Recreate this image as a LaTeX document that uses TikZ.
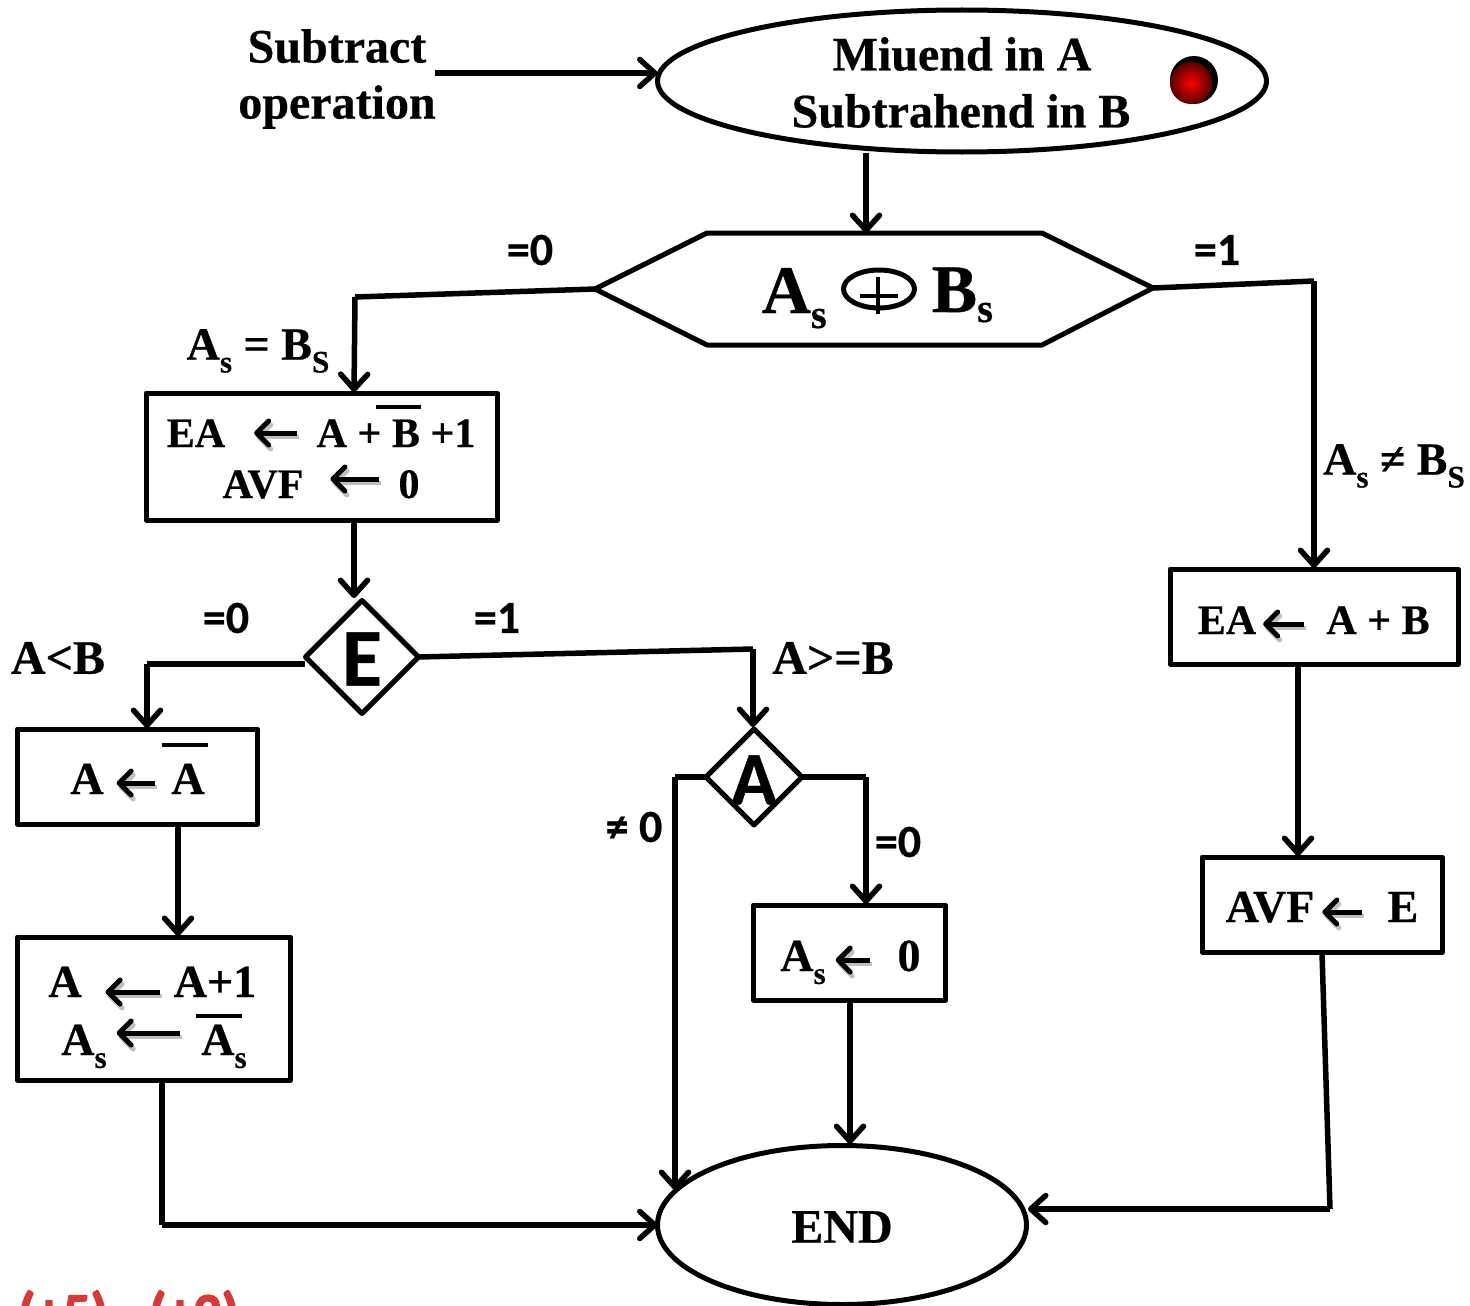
\documentclass[tikz,border=0pt]{standalone}
\usepackage{fontspec}
\setmainfont{Liberation Serif}[BoldFeatures={FakeBold=0.5}]
\newfontfamily\labelfont{Carlito}[BoldFeatures={FakeBold=0.5}]
\newfontfamily\markfont{Carlito}[BoldFeatures={FakeBold=3}]
\usetikzlibrary{arrows.meta,shapes.geometric}
\definecolor{markred}{RGB}{212,58,58}
\newcommand{\fsize}[1]{\fontsize{#1}{#1}\selectfont}
\newcommand{\lowered}[2][.28em]{\raisebox{-#1}{\scalebox{.68}{#2}}}
\begin{document}
\begin{tikzpicture}[x=1pt, y=-1pt, line width=5.5pt, line join=round,
    flow/.style = {-{Straight Barb[length=15pt,width=27pt,line width=5.5pt,round]}},
    main/.style = {draw, line width=5pt, rectangle, inner sep=0pt, outer sep=0pt},
    oval/.style = {draw, line width=5pt, ellipse, inner sep=0pt, outer sep=0pt},
    choice/.style = {draw, line width=5pt, diamond, inner sep=0pt, outer sep=0pt, minimum width=#1, minimum height=#1},
    txt/.style = {inner sep=0pt, outer sep=0pt, text height=28pt, text depth=0pt, font=\fsize{42}\bfseries},
    txtb/.style = {txt, font=\fsize{46}\bfseries},
    big/.style = {inner sep=0pt, outer sep=0pt, align=center, font=\fsize{48}\bfseries},
    val/.style = {inner sep=0pt, outer sep=0pt, font=\labelfont\fsize{46}\bfseries},
    inarrow/.style = {-{Straight Barb[length=12pt,width=24pt,line width=5pt,round]}, line width=5pt,
        preaction={draw=black!25, line width=4pt, transform canvas={shift={(2pt,-4pt)}}}},
    bar/.style = {line width=3.5pt}]
    \useasboundingbox (0,0) rectangle (1470,1306);

    \node[oval, minimum width=609pt, minimum height=142pt] (start) at (962,81) {};
    \node[big] (miuend) at (962,54) {Miuend in A};
    \node[big] (subtrahend) at (961,111) {Subtrahend in B};
    \fill[black] (1194,80) circle (24);
    \shade[inner color=red, outer color=red!35!black] (1191,83) circle (21);

    \node[big, text width=200pt] (subtract) at (337,79) {Subtract\\[8pt]operation};
    \coordinate (subout) at (435,73);
    \draw[flow] (subout) -- (subout -| start.west);

    % hexagon and the test on the signs
    \coordinate (hexl) at (595,289);
    \coordinate (hexr) at (1153,288);
    \coordinate (hext) at (866,233);
    \coordinate (startb) at (866,153);
    \draw[line width=5pt] (hexl) -- (707,233) -- (1042,233) -- (hexr) -- (1042,345) -- (707,345) -- cycle;
    \draw[flow] (startb) -- (hext);
    \node[anchor=base west, inner sep=0pt, font=\fsize{68}\bfseries] (as) at (759,313) {A{\fsize{60}\lowered[15pt]{s}}};
    \node[anchor=base west, inner sep=0pt, font=\fsize{68}\bfseries] (bs) at (929,312) {B{\fsize{60}\lowered[10pt]{s}}};
    \node[oval, minimum width=71pt, minimum height=38pt] (xor) at (879,289) {};
    \draw[line width=4pt] (878,277) -- (878,314);
    \draw[line width=4pt] (860,296) -- (898,296);

    \node[val] (lab1) at (530,250) {=0};
    \node[val] (lab2) at (1217,250) {=1};
    \node[big, font=\fsize{46}\bfseries] (lab3) at (258,351) {A\lowered{s} = B\lowered{S}};
    \node[big, font=\fsize{46}\bfseries] (lab4) at (1394,466) {A\lowered{s} ≠ B\lowered{S}};

    % left branch
    \node[main, minimum width=351pt, minimum height=127pt] (1) at (321.5,456.5) {};
    \coordinate (bendl) at (355,297);
    \draw (hexl) -- (bendl);
    \draw[flow] (bendl) -- (354,392);
    \node[txt] (ea1) at (196,433) {EA};
    \node[txt] (apb) at (396,433) {A + B +1};
    \draw[inarrow, shorten >=29pt, shorten <=20pt] (apb.west) -- (ea1.east);
    \draw[bar] (376,407) -- (421,407);
    \node[txt] (avf1) at (263,484) {AVF};
    \node[txt] (zero1) at (409,484) {0};
    \draw[inarrow, shorten >=27pt, shorten <=20pt] ([yshift=5pt]zero1.west) -- ([yshift=5pt]avf1.east);

    \node[choice=113pt] (e) at (362,657) {};
    \node[font=\labelfont\fsize{82}\bfseries, inner sep=0pt] (etxt) at (362,659) {E};
    \coordinate (oneb) at (354,521);
    \draw[flow] (oneb) -- (354,598);
    \node[val] (lab5) at (226,618) {=0};
    \node[val] (lab6) at (497,618) {=1};
    \node[big] (lab7) at (58,658) {A<B};
    \node[big] (lab8) at (833,658) {A>=B};

    \node[main, minimum width=240pt, minimum height=95pt] (3) at (137.5,776.5) {};
    \coordinate (eleft) at (305,664);
    \draw (eleft) -- (147,664);
    \draw[flow] (147,664) -- (147,728);
    \node[txtb] (a1) at (87,780) {A};
    \node[txtb] (a2) at (188,780) {A};
    \draw[inarrow, shorten >=13pt, shorten <=16pt] ([yshift=-3pt]a2.west) -- ([yshift=-3pt]a1.east);
    \draw[bar] (162,745) -- (208,745);

    \node[main, minimum width=273pt, minimum height=143pt] (4) [below of=3, node distance=232pt, xshift=16.5pt] {};
    \draw[flow] (178,825) -- (178,936);
    \node[txtb] (a3) at (65,983) {A};
    \node[txtb] (a4) at (215,983) {A+1};
    \draw[inarrow, shorten >=24pt, shorten <=14pt] ([yshift=-9pt]a4.west) -- ([yshift=-9pt]a3.east);
    \node[txtb] (a5) at (84,1041) {A\lowered{s}};
    \node[txtb] (a6) at (224,1041) {A\lowered{s}};
    \draw[inarrow, shorten >=10pt, shorten <=21pt] ([yshift=8pt]a6.west) -- ([yshift=8pt]a5.east);
    \draw[bar] (196,1016) -- (242,1016);

    % right branch
    \node[main, minimum width=288pt, minimum height=95pt] (2) at (1314,616.5) {};
    \coordinate (bendr) at (1314,281);
    \draw (hexr) -- (bendr);
    \draw[flow] (bendr) -- (1314,568);
    \node[txt] (ea2) at (1227,620) {EA};
    \node[txt] (apb2) at (1378,620) {A + B};
    \draw[inarrow, shorten >=7pt, shorten <=22pt] ([yshift=-4pt]apb2.west) -- ([yshift=-4pt]ea2.east);

    \node[main, minimum width=240pt, minimum height=95pt] (6) at (1322,904.5) {};
    \draw[flow] (1298,665) -- (1298,856);
    \node[txtb] (avf2) at (1270,908) {AVF};
    \node[txtb] (e2) at (1403,908) {E};
    \draw[inarrow, shorten >=8pt, shorten <=26pt] ([yshift=-4pt]e2.west) -- ([yshift=-4pt]avf2.east);

    % middle branch
    \node[choice=96pt] (a) at (754,777) {};
    \node[font=\labelfont\fsize{76}\bfseries, inner sep=0pt] (atxt) at (754,780) {A};
    \coordinate (eright) at (418,657);
    \draw (eright) -- (753,649);
    \draw[flow] (753,649) -- (753,727);
    \node[val] (lab9) at (634,827) {≠ 0};
    \node[val] (lab10) at (898,842) {=0};

    \node[main, minimum width=192pt, minimum height=95pt] (5) at (849.5,952.5) {};
    \draw (a.east) -- (866,777);
    \draw[flow] (866,777) -- (866,904);
    \node[txtb] (as2) at (803,957) {A\lowered{s}};
    \node[txtb] (zero2) at (909,957) {0};
    \draw[inarrow, shorten >=10pt, shorten <=28pt] ([yshift=-3pt]zero2.west) -- ([yshift=-3pt]as2.east);

    \node[oval, minimum width=369pt, minimum height=159pt] (end) at (842,1225) {};
    \node[big] (endtxt) at (842,1227) {END};

    \draw (a.west) -- (675,777);
    \draw[flow] (675,777) -- (675,1190);
    \draw[flow] (850,1001) -- (850,1144);
    \draw (162,1081) -- (162,1225);
    \draw[flow] (162,1225) -- (end.west);
    \draw (1322,953) -- (1330,1209);
    \draw[flow] (1330,1209) -- (1028,1209);

    \node[font=\markfont\fsize{55}\bfseries, text=markred, inner sep=0pt] (plus5) at (63,1315) {(+5)};
    \node[font=\markfont\fsize{55}\bfseries, text=markred, inner sep=0pt] (plus2) at (194,1315) {(+2)};
\end{tikzpicture}
\end{document}
